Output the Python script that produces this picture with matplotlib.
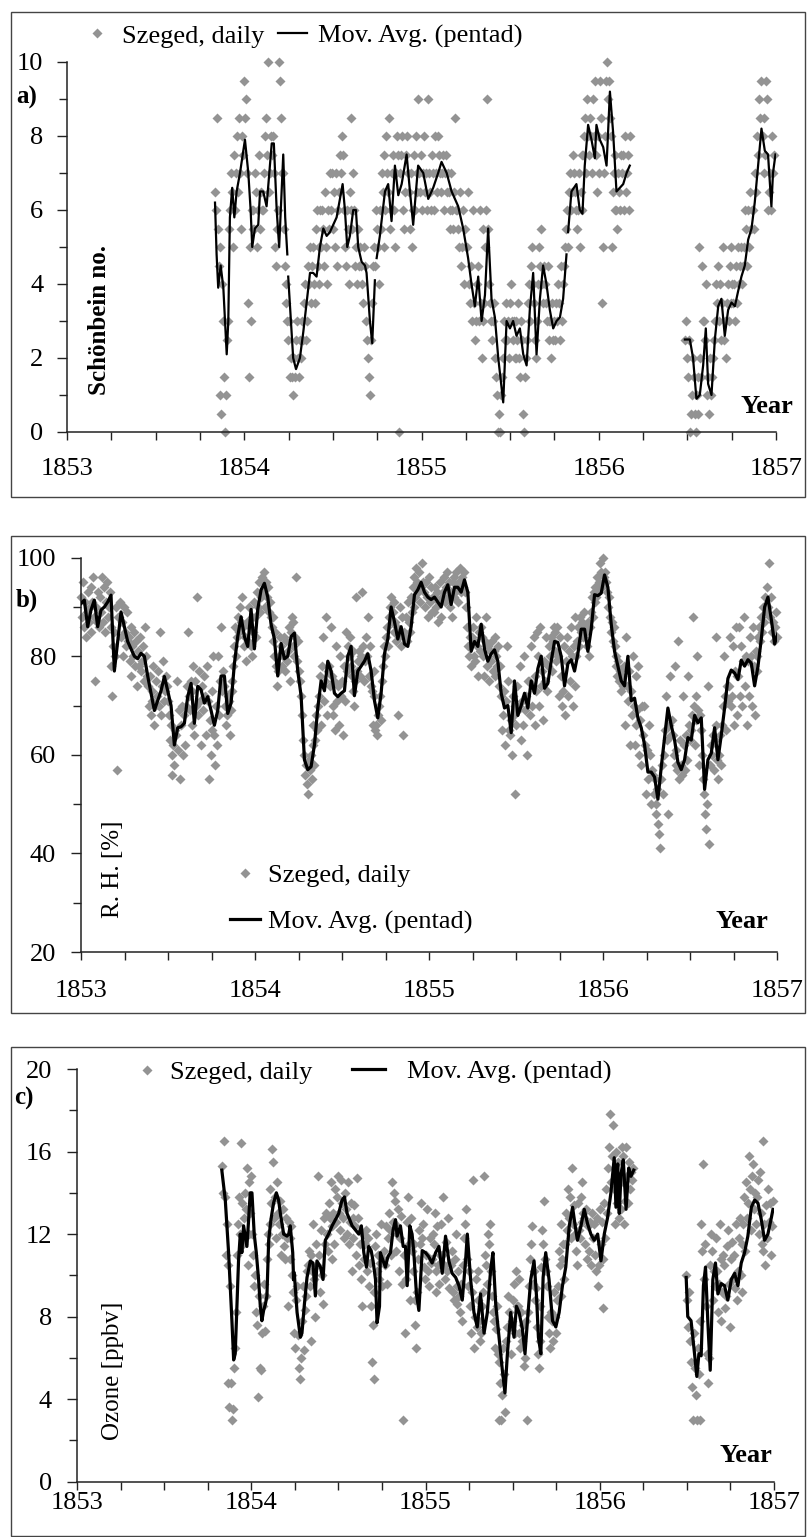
#!/usr/bin/env python3
"""
SZEGED 1853-1857 : SCHONBEIN NUMBERS, HUMIDITY AND OZONE
=========================================================
Three stacked panels, daily values (grey diamonds) with the
5-day moving average (black line), Excel-like styling.
"""

import numpy as np
import matplotlib
matplotlib.use('Agg')
import matplotlib.pyplot as plt
from matplotlib.legend import Legend
from matplotlib.lines import Line2D
from matplotlib.patches import Rectangle
from matplotlib.ticker import MultipleLocator

plt.rcParams['font.family'] = ['Liberation Serif', 'DejaVu Serif']
nan = np.nan

# ===== panel a : Schonbein numbers (daily values every 2nd day) =====
schoen_start = [1853.833, 1856.486]
schoen_daily_1 = [
    6.5, 6, 8.5, 5.5, 4.5, 1, 5, 0.5, 4, 3,
    1.5, 0, 1, 2.5, 3, 5.5, 6, 7, 6.5, 5,
    7.5, 6, 7, 8, 6.5, 8.5, 7, 5.5, 8, 7.5,
    9.5, 8.5, 9, 7, 3.5, 1.5, 5, 3, 6, 5.5,
    6, 5.5, 7, 6.5, 5, 6, 7.5, 5.5, 6.5, 6,
    6, 7, 8, 8.5, 7.5, 10, 6.5, 7, 8, 7.5,
    8, 7, 5, 4.5, 5.5, 6, 10, 9.5, 8.5, 7,
    7, 5.5, 4.5, 4, 3.5, 3, 2.5, 3, 1.5, 2,
    1.5, 1, 2, 1.5, 2.5, 3, 2, 1.5, 2.5, 2,
    3, 2.5, 3.5, 4, 2.5, 3, 4.5, 4, 5, 3.5,
    4.5, 5, 4, 3.5, 5.5, 6, 4.5, 5, 4, 6,
    5, 6, 5.5, 4.5, 6.5, 5, 4, 6, 5.5, 7,
    6, 7, 5.5, 6.5, 5, 7, 4.5, 6, 6.5, 7.5,
    7, 8, 7.5, 6, 5, 4.5, 6, 5.5, 4, 6.5,
    6, 8.5, 5.5, 7, 6, 4.5, 5, 4, 5.5, 4.5,
    5, 4.5, 4, 3.5, 5, 4.5, 3, 2.5, 2, 1.5,
    1, 2.5, 3.5, 4.5, 5, 4.5, 6, 5.5, 5, 4,
    6, 5.5, 7, 6.5, 7.5, 5, 6, 8, 7, 6.5,
    8.5, 5.5, 6, 7, 7.5, 6, 5, 7, 8, 7.5,
    0, 7, 7.5, 8, 6, 5.5, 6.5, 7.5, 8, 7,
    6.5, 5.5, 7, 5, 6, 7.5, 6, 8, 7, 6.5,
    9, 7, 6.5, 7.5, 6, 7, 8, 6.5, 7, 6,
    9, 7, 6.5, 6, 7.5, 7, 6, 8, 7, 6.5,
    8, 7.5, 7, 6.5, 7, 7.5, 6, 7, 7.5, 6.5,
    7, 6.5, 6, 5.5, 7, 6, 5.5, 6.5, 8.5, 6,
    6, 5.5, 5, 6.5, 4.5, 5, 6, 4, 5.5, 5,
    5, 6.5, 4, 3.5, 4.5, 3, 6, 3.5, 2.5, 3,
    4, 4.5, 3, 6, 3.5, 2, 3, 5.5, 3.5, 5,
    6, 9, 5.5, 4, 3.5, 3, 2.5, 3, 3.5, 2,
    1.5, 1, 0, 0.5, 0, 1, 1.5, 2, 3, 2.5,
    3.5, 2.5, 3, 2, 3.5, 4, 3, 2.5, 3, 2,
    2, 3, 2.5, 3.5, 2, 1.5, 3, 2.5, 0.5, 0,
    1.5, 2, 2.5, 3.5, 4, 3, 4.5, 5, 4, 3.5,
    2.5, 2, 3, 4, 5, 4.5, 5.5, 4, 3.5, 4.5,
    4, 3.5, 3, 4.5, 3, 2.5, 3, 2, 3.5, 2.5,
    3, 2.5, 3.5, 3, 4, 3.5, 2.5, 4.5, 3, 4,
    4.5, 5, 5.5, 6, 5, 6.5, 7, 6, 6.5, 7.5,
    7, 6.5, 6, 5.5, 6, 7, 5, 6.5, 6, 7.5,
    7.5, 8, 8.5, 7, 9, 8, 7.5, 8.5, 8, 7,
    9, 8, 9.5, 7.5, 6.5, 8, 7, 9.5, 8.5, 3.5,
    5, 7, 8, 9.5, 10, 9, 9.5, 8.5, 8, 5,
    6.5, 7, 6, 7.5, 6, 5.5, 7, 6.5, 6, 7.5,
    7, 7.5, 6, 8, 6.5, 7, 7.5, 6, 8,
]
schoen_daily_2 = [
    2.5, 3, 2, 1.5, 2.5, 0, 0.5, 1, 2, 1.5,
    0.5, 0, 1, 1.5, 0.5, 5, 2, 1.5, 4.5, 3,
    3, 2.5, 4, 1, 1.5, 0.5, 2, 1, 1.5, 2,
    2.5, 3, 4, 3.5, 4.5, 3, 4, 2.5, 3.5, 5,
    2.5, 3, 2, 3.5, 4, 3, 4.5, 3.5, 5, 4,
    3.5, 4, 3, 4.5, 3.5, 5, 4, 4.5, 5, 4,
    4.5, 5, 6, 5.5, 4.5, 6, 5, 6.5, 5.5, 6,
    6, 5.5, 7, 6.5, 8, 7.5, 9, 8.5, 9.5, 8,
    8, 7, 8.5, 7.5, 9.5, 9, 6, 6.5, 7, 6,
    8, 7, 7.5,
]
schoen_ma_year = [
    1853.835, 1853.844, 1853.853, 1853.867, 1853.882, 1853.901, 1853.910, 1853.919, 1853.932, 1853.944,
    1853.957, 1853.976, 1854.004, 1854.023, 1854.036, 1854.045, 1854.060, 1854.079, 1854.089, 1854.107,
    1854.126, 1854.155, 1854.167, 1854.183, 1854.197, 1854.220, 1854.231, 1854.243, 1854.245, 1854.248,
    1854.276, 1854.292, 1854.314, 1854.333, 1854.352, 1854.371, 1854.389, 1854.408, 1854.427, 1854.446,
    1854.465, 1854.483, 1854.502, 1854.521, 1854.540, 1854.555, 1854.568, 1854.581, 1854.596, 1854.615,
    1854.630, 1854.643, 1854.662, 1854.681, 1854.690, 1854.709, 1854.722, 1854.737, 1854.742, 1854.747,
    1854.765, 1854.794, 1854.812, 1854.831, 1854.850, 1854.869, 1854.888, 1854.916, 1854.935, 1854.953,
    1854.981, 1855.010, 1855.038, 1855.066, 1855.094, 1855.113, 1855.142, 1855.170, 1855.207, 1855.235,
    1855.263, 1855.282, 1855.301, 1855.320, 1855.339, 1855.358, 1855.376, 1855.395, 1855.414, 1855.433,
    1855.452, 1855.461, 1855.480, 1855.499, 1855.517, 1855.536, 1855.555, 1855.574, 1855.593, 1855.611,
    1855.630, 1855.649, 1855.668, 1855.686, 1855.705, 1855.724, 1855.743, 1855.762, 1855.781, 1855.799,
    1855.818, 1855.822, 1855.827, 1855.846, 1855.874, 1855.893, 1855.908, 1855.921, 1855.940, 1855.959,
    1855.978, 1855.987, 1856.006, 1856.025, 1856.044, 1856.063, 1856.081, 1856.100, 1856.119, 1856.138,
    1856.157, 1856.175, 1856.300, 1856.486, 1856.514, 1856.532, 1856.551, 1856.570, 1856.589, 1856.604,
    1856.617, 1856.636, 1856.655, 1856.674, 1856.692, 1856.711, 1856.730, 1856.749, 1856.768, 1856.786,
    1856.805, 1856.824, 1856.843, 1856.862, 1856.880, 1856.899, 1856.918, 1856.937, 1856.955, 1856.974,
    1856.983, 1856.997,
]
schoen_ma = [
    6.2, 4.8, 3.9, 4.5, 3.9, 2.1, 3.0, 5.8, 6.6, 5.8,
    6.5, 7.0, 7.9, 7.0, 6.0, 5.0, 5.5, 5.6, 6.5, 6.5,
    6.1, 7.8, 7.8, 6.0, 5.0, 7.5, 5.8, 4.8, nan, 4.2,
    2.0, 1.7, 2.0, 2.7, 3.5, 4.3, 4.3, 4.2, 5.0, 5.5,
    5.3, 5.4, 5.6, 5.8, 6.3, 6.7, 6.0, 5.0, 5.3, 6.0,
    6.0, 5.0, 4.6, 4.5, 4.3, 3.0, 2.4, 4.1, nan, 4.7,
    5.3, 6.5, 6.7, 5.7, 7.2, 6.4, 6.7, 7.5, 6.5, 5.6,
    7.2, 7.0, 6.3, 6.6, 7.0, 7.3, 7.0, 6.5, 6.1, 5.5,
    4.7, 4.0, 3.4, 4.2, 3.0, 3.7, 5.5, 3.6, 3.1, 2.0,
    1.2, 0.8, 3.0, 2.8, 3.0, 2.6, 2.8, 2.1, 1.8, 3.3,
    4.3, 2.1, 3.6, 4.5, 4.0, 3.3, 2.8, 3.0, 3.1, 3.6,
    4.8, nan, 5.4, 6.5, 6.7, 6.0, 5.9, 7.2, 8.3, 7.9,
    7.4, 8.3, 7.9, 7.7, 7.2, 9.2, 8.1, 6.5, 6.6, 6.7,
    7.0, 7.2, nan, 2.5, 2.5, 2.0, 0.9, 1.0, 1.8, 2.8,
    1.3, 1.0, 2.5, 3.4, 3.6, 2.6, 3.3, 3.5, 3.4, 3.8,
    4.2, 4.5, 5.2, 5.5, 6.2, 7.2, 8.2, 7.6, 7.5, 6.1,
    7.0, 7.5,
]

# ===== panel b : relative humidity [%] =====
rh_start = 1853.0
rh_daily = [  # every 2nd day
    92, 88, 95, 86, 91, 84, 89, 93, 87, 90,
    94, 85, 91, 96, 88, 75, 90, 87, 93, 86,
    92, 89, 96, 87, 94, 85, 91, 95, 88, 90,
    93, 86, 78, 72, 82, 85, 80, 90, 57, 88,
    88, 91, 84, 87, 80, 90, 85, 82, 89, 83,
    84, 79, 86, 76, 82, 80, 85, 78, 83, 74,
    81, 78, 84, 77, 79, 82, 75, 86, 80, 76,
    74, 70, 76, 68, 73, 71, 78, 66, 70, 75,
    72, 77, 70, 85, 68, 74, 79, 71, 73, 76,
    74, 71, 68, 63, 66, 60, 56, 62, 58, 65,
    64, 75, 61, 69, 55, 66, 70, 60, 68, 62,
    70, 74, 85, 72, 69, 75, 73, 66, 78, 64,
    75, 70, 92, 68, 77, 71, 62, 74, 69, 76,
    72, 64, 78, 71, 55, 67, 60, 73, 65, 80,
    64, 58, 70, 62, 80, 68, 75, 86, 73, 77,
    74, 70, 66, 68, 72, 71, 64, 69, 73, 75,
    78, 82, 86, 80, 84, 88, 85, 90, 87, 92,
    86, 82, 84, 79, 87, 83, 90, 86, 82, 88,
    80, 85, 91, 88, 84, 93, 90, 95, 89, 92,
    96, 93, 97, 90, 95, 92, 94, 89, 91, 88,
    86, 88, 83, 80, 85, 78, 74, 77, 80, 84,
    82, 78, 80, 84, 77, 83, 79, 81, 86, 75,
    85, 88, 82, 87, 80, 84, 96, 79, 83, 77,
    75, 72, 68, 63, 60, 56, 58, 54, 52, 59,
    57, 60, 55, 62, 66, 58, 63, 68, 65, 70,
    72, 76, 66, 78, 84, 71, 75, 88, 68, 77,
    78, 74, 86, 76, 68, 70, 75, 65, 82, 71,
    74, 66, 80, 72, 75, 64, 78, 71, 85, 77,
    82, 80, 84, 78, 76, 81, 73, 70, 75, 92,
    77, 79, 81, 76, 80, 93, 82, 75, 79, 84,
    80, 88, 76, 82, 74, 73, 66, 77, 72, 65,
    66, 64, 68, 70, 72, 67, 75, 78, 82, 80,
    84, 86, 82, 88, 90, 92, 87, 89, 85, 91,
    87, 83, 86, 68, 84, 90, 82, 88, 64, 85,
    84, 88, 83, 91, 87, 85, 92, 89, 94, 90,
    96, 92, 98, 95, 93, 97, 91, 94, 99, 95,
    93, 90, 95, 92, 88, 96, 91, 94, 89, 92,
    92, 89, 94, 90, 93, 87, 91, 95, 88, 92,
    93, 96, 91, 94, 97, 92, 95, 90, 93, 88,
    95, 92, 96, 93, 97, 94, 91, 95, 98, 93,
    96, 94, 97, 93, 90, 86, 82, 80, 84, 78,
    84, 86, 80, 83, 79, 88, 82, 76, 85, 81,
    86, 84, 80, 76, 83, 88, 78, 82, 75, 81,
    79, 83, 77, 81, 84, 76, 80, 78, 82, 74,
    78, 72, 65, 68, 73, 62, 71, 82, 75, 65,
    64, 67, 60, 72, 68, 52, 70, 66, 74, 69,
    70, 78, 63, 71, 66, 80, 69, 72, 60, 75,
    75, 68, 82, 70, 74, 84, 66, 76, 73, 85,
    80, 70, 86, 74, 77, 67, 79, 75, 84, 73,
    78, 82, 80, 84, 77, 83, 86, 81, 85, 79,
    86, 80, 72, 84, 76, 70, 73, 82, 68, 79,
    84, 72, 81, 75, 86, 80, 70, 82, 74, 88,
    80, 83, 86, 82, 88, 85, 87, 84, 89, 86,
    85, 82, 87, 80, 86, 89, 92, 88, 93, 91,
    94, 92, 96, 93, 95, 99, 97, 94, 100, 96,
    97, 95, 93, 90, 92, 88, 85, 87, 83, 86,
    82, 78, 80, 76, 79, 75, 77, 73, 76, 74,
    78, 66, 84, 74, 71, 77, 62, 73, 68, 80,
    70, 62, 76, 66, 69, 78, 60, 67, 58, 70,
    64, 70, 62, 52, 61, 55, 66, 60, 50, 57,
    56, 52, 55, 50, 48, 53, 46, 44, 41, 55,
    58, 52, 60, 65, 72, 63, 48, 66, 76, 64,
    67, 64, 60, 78, 58, 61, 57, 83, 55, 63,
    58, 56, 72, 62, 57, 64, 59, 76, 66, 63,
    65, 68, 88, 70, 62, 67, 72, 80, 69, 58,
    68, 65, 60, 55, 52, 48, 45, 50, 74, 42,
    58, 62, 60, 64, 57, 63, 84, 66, 59, 55,
    60, 64, 58, 66, 70, 80, 72, 65, 74, 71,
    74, 84, 70, 72, 82, 66, 77, 86, 68, 76,
    76, 86, 72, 82, 70, 79, 88, 74, 80, 66,
    79, 72, 84, 80, 70, 86, 78, 68, 81, 77,
    80, 84, 86, 83, 88, 85, 90, 87, 92, 89,
    94, 90, 99, 88, 92, 85, 87, 83, 86, 89,
    84,
]
rh_ma = [
    90.7, 91.4, 86, 89.4, 91.4, 86, 89.4, 90, 91, 92.4,
    77, 83, 89, 86, 83, 81.5, 80, 79.5, 80.6, 80,
    76, 72.5, 69, 71, 73, 75.9, 73, 70, 62, 65.5,
    65.7, 66.4, 71.8, 74.5, 66.4, 73.9, 73.2, 70.5, 71.8, 69,
    66, 69, 76, 76, 68.4, 70.5, 78.5, 84, 88, 84,
    82, 89.5, 81.5, 89.5, 93.5, 94.8, 92, 86.5, 83.5, 76,
    82.6, 79.5, 80, 84, 84.7, 77, 72, 59, 57, 57.6,
    62, 69.5, 75, 73, 79, 77, 72.5, 71.8, 72.5, 73,
    80, 82, 72, 77, 78, 79, 80.5, 77, 71, 67.5,
    72.5, 80.5, 83.5, 90, 87, 83.5, 86, 82.5, 82, 86,
    92.5, 93.5, 95, 93, 92, 91.5, 92, 91, 90, 93,
    94.5, 90.5, 94, 94, 93, 95.5, 93, 81, 83, 82,
    86.5, 81.5, 79, 80.5, 81.3, 79, 72.5, 69.5, 70, 64.5,
    75, 68, 70, 72.5, 69.5, 75, 72.5, 77.5, 80, 73.5,
    74.5, 79, 83, 82.8, 80, 74, 78.5, 79.3, 77, 80.5,
    85.5, 85.5, 81, 85.5, 92.5, 92.3, 92.8, 96.5, 94, 86.5,
    81, 78, 75, 74, 80, 71, 71.5, 67.5, 65.5, 62,
    56.5, 56.5, 55.5, 51, 57.5, 63.5, 69.5, 66, 63, 58.5,
    57, 59, 63.5, 63, 68, 66.5, 67.5, 53, 59, 60.3,
    65.5, 59, 64, 69.5, 75.5, 77.2, 76.6, 75.3, 79.2, 78,
    79.3, 78.6, 74, 77.9, 83.5, 90, 92, 87.5, 82.5, 84.7,
]

# ===== panel c : ozone [ppbv] =====
ozone_start = [1853.831, 1856.496]
ozone_daily_1 = [  # every 2nd day
    15.3, 14, 16.5, 13.8, 11, 12.5, 10.5, 4.8, 3.6, 9.5,
    4.8, 3, 3.5, 5.5, 6.5, 8.2, 11, 12.5, 13.8, 12,
    16.4, 13.5, 11.5, 12.8, 14, 13.2, 15.2, 10.5, 12, 14.5,
    13, 14.8, 12, 11, 9.5, 10, 8.2, 7.6, 4.1, 9,
    5.5, 5.4, 7.2, 8.5, 9.6, 7.3, 9, 10.8, 12, 11.5,
    12.5, 14.2, 13.5, 16.1, 15.5, 12.8, 13.8, 11.8, 14.5, 13,
    12.5, 13.6, 11, 12, 13.2, 11.4, 10.8, 12.8, 11.8, 8.5,
    12.6, 11.8, 10.8, 12.4, 10, 9.2, 7.2, 6.5, 8.8, 9.5,
    7.1, 5.5, 5, 6, 7.8, 9.5, 6.4, 8.3, 9, 10.2,
    10.5, 11.2, 9.5, 11, 6.8, 10.2, 12.5, 9.8, 8, 11.5,
    10.5, 14.8, 11, 9.2, 12.2, 10, 8.6, 12.8, 11.5, 13,
    12, 11.2, 13.5, 12.8, 14.5, 10.8, 12.4, 13, 11.5, 14.2,
    12.6, 13.8, 14.8, 13, 12.2, 14.6, 13.5, 12.8, 11.8, 14,
    13.2, 12, 14.5, 11.5, 12.6, 13.5, 10.2, 12.8, 11.8, 13.4,
    12.4, 11, 14.7, 12.8, 10.5, 11.5, 9.8, 8.5, 12, 10.8,
    11.5, 12.2, 10.2, 11.8, 9.5, 10.6, 8.5, 5.8, 7.6, 5,
    9.2, 11.4, 12, 10.2, 11, 9.8, 10.6, 12.5, 9.5, 10.8,
    11.2, 10.5, 12.4, 9.6, 11.8, 13, 12.2, 11, 14.5, 12.6,
    14, 12.5, 13.6, 11.2, 12, 13.2, 10.2, 11.8, 12.9, 9.6,
    3, 11, 7.2, 9.8, 12.6, 13.8, 11.5, 8.8, 12.8, 11.2,
    10.2, 11.5, 8.8, 7.6, 6.5, 9.2, 10.8, 12.2, 11.5, 13.5,
    11.8, 12.5, 10.4, 9.8, 11, 13.2, 10.2, 9.5, 11.8, 10.6,
    10.8, 12, 11.5, 13, 10.2, 9.2, 12.4, 10.5, 9.6, 11,
    12.5, 11, 13.8, 10.5, 9.8, 11.6, 10.2, 12.8, 9.4, 10.6,
    10.5, 11.2, 9.2, 8.8, 10.8, 12, 9.5, 8.6, 10.2, 9,
    8.2, 9.6, 7.8, 10.5, 11.8, 12.5, 13.2, 10.8, 9.5, 10.2,
    8.5, 7.2, 9.2, 14.6, 6.5, 8, 9.8, 7.5, 10.2, 8.8,
    7.8, 6.8, 7.2, 8.5, 9.2, 14.8, 11, 10.5, 9.6, 12,
    11.5, 12.5, 10.2, 9, 8.2, 7.8, 6.5, 7.4, 8.5, 6.2,
    5.8, 3, 4.8, 3, 4.2, 6.5, 5.2, 3.4, 6.8, 7.5,
    9, 8.2, 7.5, 6.2, 7.8, 8.8, 9.6, 7.2, 10.2, 8.5,
    8.5, 9.8, 7.2, 6.5, 8.2, 6.8, 7.6, 5.6, 6, 7.8,
    3, 8.2, 9.5, 10.8, 11.5, 12.4, 9.6, 10.2, 8.8, 9.4,
    7.5, 6.2, 5.5, 6.8, 8.5, 10.4, 12.2, 11.5, 13.6, 10.8,
    10.2, 9.5, 8, 7.2, 6.5, 8.2, 7.8, 6.8, 9.2, 8,
    7.2, 8.8, 9.5, 11.2, 10.5, 9, 12.5, 10.8, 11.5, 9.8,
    11.5, 13, 12.2, 14.2, 12.8, 13.8, 11.8, 15.2, 12.5, 13.4,
    12, 11.2, 10.5, 13.5, 12.2, 11.8, 13.8, 12.6, 14.5, 13,
    12.8, 11.5, 13.2, 10.8, 12.4, 11.2, 12.6, 10.5, 13, 11.8,
    12.5, 11, 10.2, 12.8, 9.5, 10.5, 13.2, 11.5, 12.6, 10.8,
    8.4, 13.5, 11.8, 14.2, 13, 15.2, 16.2, 17.8, 14.5, 15.8,
    17.3, 14.2, 12.5, 16, 13.5, 15.5, 12.8, 14.8, 13.2, 16.2,
    15.8, 14.5, 12.5, 13.6, 16.2, 14.8, 13.5, 15.5, 14.2, 15,
    14.6, 15.2,
]
ozone_daily_2 = [
    10, 8.8, 7.5, 9.2, 6.8, 5.8, 4.6, 3, 7.2, 5.5,
    4.2, 3, 6.5, 5.2, 3, 7.8, 12.5, 11.2, 15.4, 9.8,
    11.5, 8.5, 6.2, 4.8, 6, 10.5, 12, 11.2, 8.8, 10.2,
    9.5, 11.8, 10.2, 8.2, 9.6, 12.5, 10.8, 7.8, 9.2, 11,
    10.5, 8.4, 9, 11.4, 12.2, 9.6, 7.5, 10.8, 11.6, 9.8,
    11, 9.4, 12.5, 8.8, 10.2, 11.8, 12.8, 10, 9.2, 11.5,
    12.5, 13.8, 11.2, 14.5, 12.8, 13.5, 15.8, 14.2, 12.2, 14.8,
    15.4, 13.2, 14, 12.5, 13.8, 14.6, 12, 15, 13, 11.5,
    16.5, 11.2, 12.5, 10.5, 13.4, 11.8, 14.2, 12.6, 13.5, 11,
    12.4, 13.6,
]
ozone_ma_year = [
    1853.831, 1853.851, 1853.870, 1853.889, 1853.899, 1853.908, 1853.918, 1853.927, 1853.937, 1853.946,
    1853.956, 1853.975, 1853.985, 1853.994, 1854.004, 1854.017, 1854.029, 1854.042, 1854.052, 1854.061,
    1854.071, 1854.081, 1854.090, 1854.100, 1854.113, 1854.128, 1854.144, 1854.157, 1854.167, 1854.186,
    1854.205, 1854.215, 1854.224, 1854.238, 1854.243, 1854.245, 1854.247, 1854.263, 1854.282, 1854.291,
    1854.305, 1854.320, 1854.339, 1854.354, 1854.368, 1854.377, 1854.397, 1854.412, 1854.425, 1854.444,
    1854.464, 1854.483, 1854.502, 1854.521, 1854.535, 1854.550, 1854.565, 1854.579, 1854.598, 1854.617,
    1854.632, 1854.646, 1854.661, 1854.674, 1854.688, 1854.699, 1854.713, 1854.722, 1854.736, 1854.741,
    1854.757, 1854.770, 1854.784, 1854.799, 1854.814, 1854.828, 1854.837, 1854.856, 1854.872, 1854.885,
    1854.895, 1854.910, 1854.923, 1854.933, 1854.948, 1854.962, 1854.981, 1855.000, 1855.019, 1855.038,
    1855.058, 1855.077, 1855.096, 1855.115, 1855.134, 1855.153, 1855.173, 1855.192, 1855.211, 1855.230,
    1855.240, 1855.259, 1855.278, 1855.297, 1855.316, 1855.336, 1855.355, 1855.374, 1855.387, 1855.403,
    1855.422, 1855.441, 1855.456, 1855.470, 1855.489, 1855.508, 1855.522, 1855.537, 1855.556, 1855.571,
    1855.585, 1855.604, 1855.623, 1855.637, 1855.648, 1855.662, 1855.675, 1855.690, 1855.709, 1855.729,
    1855.748, 1855.767, 1855.786, 1855.805, 1855.825, 1855.844, 1855.859, 1855.872, 1855.892, 1855.911,
    1855.930, 1855.949, 1855.968, 1855.988, 1856.007, 1856.026, 1856.045, 1856.064, 1856.083, 1856.093,
    1856.103, 1856.112, 1856.122, 1856.135, 1856.151, 1856.166, 1856.179, 1856.195, 1856.300, 1856.496,
    1856.505, 1856.524, 1856.544, 1856.557, 1856.569, 1856.582, 1856.595, 1856.607, 1856.620, 1856.634,
    1856.649, 1856.664, 1856.678, 1856.697, 1856.716, 1856.735, 1856.755, 1856.774, 1856.793, 1856.812,
    1856.831, 1856.850, 1856.870, 1856.889, 1856.908, 1856.927, 1856.946, 1856.965, 1856.985, 1856.994,
]
ozone_ma = [
    15.1, 13.65, 11.1, 7.8, 5.9, 6.2, 8.6, 10.7, 12.0, 11.1,
    12.4, 11.4, 12.7, 14.0, 14.0, 12.0, 11.1, 9.8, 8.5, 7.8,
    8.3, 8.6, 9.0, 11.7, 12.7, 13.5, 14.0, 13.65, 13.0, 12.0,
    11.9, 12.0, 12.4, 11.1, 9.8, nan, 10.1, 8.2, 7.0, 7.2,
    8.6, 9.9, 10.7, 10.6, 9.0, 10.7, 10.4, 9.8, 11.7, 12.0,
    12.4, 12.7, 13.0, 13.65, 13.8, 13.0, 12.7, 12.4, 12.2, 12.0,
    12.4, 11.1, 10.4, 11.4, 11.2, 10.7, 9.8, 7.7, 8.5, 11.1,
    10.7, 10.4, 10.9, 11.1, 12.2, 12.7, 11.9, 12.4, 11.4, 11.4,
    9.5, 12.4, 12.0, 11.1, 9.1, 8.3, 11.2, 11.1, 10.9, 10.6,
    11.1, 11.4, 10.1, 11.9, 10.7, 10.1, 9.9, 9.5, 8.8, 10.7,
    12.0, 9.8, 8.2, 7.5, 9.1, 7.2, 8.2, 10.3, 11.1, 8.6,
    7.0, 5.4, 4.3, 6.2, 8.2, 7.0, 8.5, 8.2, 7.4, 6.2,
    7.8, 9.8, 10.7, 9.0, 7.0, 6.2, 9.9, 11.1, 9.8, 7.8,
    7.5, 8.2, 9.5, 10.4, 12.4, 13.3, 12.4, 11.7, 12.4, 13.2,
    12.5, 12.0, 11.7, 12.0, 10.7, 12.0, 12.8, 14.0, 15.7, 13.3,
    15.4, 13.0, 14.9, 15.6, 13.2, 15.2, 14.8, 15.1, nan, 9.9,
    8.0, 7.8, 6.2, 5.1, 6.2, 6.1, 9.5, 10.4, 7.8, 5.4,
    9.8, 10.6, 9.1, 9.6, 9.5, 8.8, 9.8, 10.1, 9.5, 10.6,
    11.1, 11.9, 13.3, 13.65, 13.5, 12.7, 11.7, 12.0, 12.8, 13.2,
]

# ===== layout (pixels of the 808 x 1537 picture) =====
W, H = 808, 1537
DAY = 1 / 365.25
GREY = '#939393'
FRAME = '#444444'
AXC = '#222222'
FS = 19        # horizontal texts
FS_ROT = 18    # rotated axis titles
MS = 4.8       # diamond size
EM = FS * 100 / 72   # one em in pixels


def days(start, n, step):
    """Decimal-year positions for a regular run of observations"""
    return start + np.arange(n) * step * DAY


def fx(x):
    return x / W


def fy(y):
    return 1 - y / H


def add_panel(fig, left, top, right, bottom, frame_top, frame_bottom):
    fig.patches.append(Rectangle((fx(11), fy(frame_bottom)), (805 - 11) / W,
                                 (frame_bottom - frame_top) / H,
                                 transform=fig.transFigure, fill=False,
                                 ec=FRAME, lw=1.0))
    return fig.add_axes([fx(left), fy(bottom), (right - left) / W, (bottom - top) / H])


def style_axes(ax, ylim, major, minor, xpad, ypad):
    ax.set_xlim(1853, 1857)
    ax.set_ylim(*ylim)
    ax.patch.set_alpha(0)
    for s in ('top', 'right'):
        ax.spines[s].set_visible(False)
    for s in ('left', 'bottom'):
        ax.spines[s].set_color(AXC)
        ax.spines[s].set_linewidth(1.1)
    ax.xaxis.set_major_locator(MultipleLocator(1))
    ax.xaxis.set_minor_locator(MultipleLocator(0.25))
    ax.yaxis.set_major_locator(MultipleLocator(major))
    ax.yaxis.set_minor_locator(MultipleLocator(minor))
    ax.xaxis.set_major_formatter('{x:.0f}')
    ax.yaxis.set_major_formatter('{x:.0f}')
    ax.tick_params(axis='x', which='both', direction='out', length=5.5,
                   width=1.0, color=AXC, pad=xpad, labelsize=FS)
    ax.tick_params(axis='y', which='major', direction='out', length=7,
                   width=1.0, color=AXC, pad=ypad, labelsize=FS)
    ax.tick_params(axis='y', which='minor', direction='out', length=6,
                   width=1.0, color=AXC)


def draw_series(ax, starts, dailies, ma_x, ma_y, lw):
    for start, vals in zip(starts, dailies):
        ax.plot(days(start, len(vals), 2), vals, ls='none', marker='D', ms=MS,
                color=GREY, mec='none', clip_on=False, zorder=2)
    ax.plot(ma_x, ma_y, color='black', lw=lw, zorder=3)


def legend_entry(ax, fig, handle, text, x0, x1, y, text_x):
    """One legend entry: handle spanning x0..x1 px, text starting at text_x px"""
    leg = Legend(ax, [handle], [text], frameon=False, fontsize=FS,
                 loc='center left', bbox_to_anchor=(fx(x0), fy(y)),
                 bbox_transform=fig.transFigure, handlelength=(x1 - x0) / EM,
                 handletextpad=(text_x - x1) / EM, borderpad=0, borderaxespad=0)
    ax.add_artist(leg)


def add_legend(ax, fig, dot, line, lw):
    h_dot = Line2D([], [], ls='none', marker='D', ms=MS, color=GREY, mec='none')
    h_line = Line2D([], [], color='black', lw=lw)
    legend_entry(ax, fig, h_dot, 'Szeged, daily', *dot)
    legend_entry(ax, fig, h_line, 'Mov. Avg. (pentad)', *line)


def label(fig, x, y, s, bold=False, rot=0, ha='center', size=FS):
    fig.text(fx(x), fy(y), s, fontsize=size, rotation=rot, ha=ha, va='center',
             fontweight='bold' if bold else 'normal')


def create_figure():
    fig = plt.figure(figsize=(W / 100, H / 100), dpi=100)
    fig.patch.set_facecolor('white')

    # ===== PANEL a : Schonbein numbers =====
    ax = add_panel(fig, 67, 62, 776, 432, 12, 497)
    style_axes(ax, (0, 10), 2, 1, xpad=13, ypad=10)
    draw_series(ax, schoen_start, [schoen_daily_1, schoen_daily_2],
                schoen_ma_year, schoen_ma, lw=1.6)
    add_legend(ax, fig, (82, 112, 36, 122), (278, 307, 36, 318), lw=1.6)
    label(fig, 16, 97, 'a)', bold=True, ha='left', size=FS_ROT)
    label(fig, 100, 320, 'Schönbein no.', bold=True, rot=90, size=FS_ROT)
    label(fig, 767, 407, 'Year', bold=True)

    # ===== PANEL b : relative humidity =====
    ax = add_panel(fig, 81, 557.7, 777, 952, 536, 1013)
    style_axes(ax, (20, 100), 20, 10, xpad=15, ypad=11)
    draw_series(ax, [rh_start], [rh_daily],
                days(rh_start, len(rh_ma), 7), rh_ma, lw=2.3)
    add_legend(ax, fig, (230, 260, 875, 268), (230, 260, 922, 268), lw=2.3)
    label(fig, 16, 600, 'b)', bold=True, ha='left', size=FS_ROT)
    label(fig, 113, 869, 'R. H. [%]', rot=90, size=FS_ROT)
    label(fig, 742, 922, 'Year', bold=True)

    # ===== PANEL c : ozone =====
    ax = add_panel(fig, 77, 1069, 774, 1481.7, 1047, 1536)
    style_axes(ax, (0, 20), 4, 2, xpad=2, ypad=11)
    draw_series(ax, ozone_start, [ozone_daily_1, ozone_daily_2],
                ozone_ma_year, ozone_ma, lw=2.3)
    add_legend(ax, fig, (132, 162, 1072, 170), (352, 385, 1072, 407), lw=2.3)
    label(fig, 14, 1098, 'c)', bold=True, ha='left', size=FS_ROT)
    label(fig, 113, 1371, 'Ozone [ppbv]', rot=90, size=FS_ROT)
    label(fig, 746, 1455, 'Year', bold=True)

    return fig


def main():
    fig = create_figure()
    fig.savefig('out.png', dpi=100)
    print('saved out.png')


if __name__ == '__main__':
    main()
